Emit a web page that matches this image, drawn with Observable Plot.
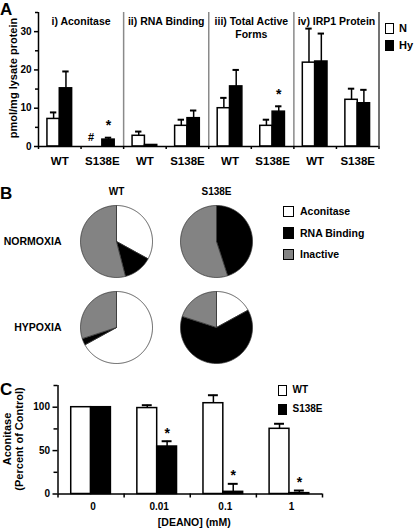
<!DOCTYPE html>
<html><head><meta charset="utf-8">
<script src="https://cdn.jsdelivr.net/npm/d3@7"></script>
<script src="https://cdn.jsdelivr.net/npm/@observablehq/plot@0.6"></script>
<style>
body{margin:0;background:#fff;}
#fig{position:relative;width:416px;height:529px;overflow:hidden;font-family:"Liberation Sans",Arial,sans-serif;font-weight:bold;color:#000;background:#fff;}
.p{position:absolute;left:0;}
.letter{position:absolute;font-size:17px;line-height:1;}
.box{position:absolute;box-sizing:border-box;border:1.5px solid #000;}
.lab{position:absolute;line-height:1;white-space:nowrap;}
.rot{position:absolute;white-space:pre;text-align:center;transform:translate(-50%,-50%) rotate(-90deg);}
</style></head><body><div id="fig"></div>
<script>
// ---------- Panel A data (order within each panel: WT-N, WT-Hy, S138E-N, S138E-Hy)
const panels = ["i) Aconitase", "ii) RNA Binding", "iii) Total Active\nForms", "iv) IRP1 Protein"];
const genotypes = ["WT", "S138E"];
const conditions = ["N", "Hy"];
const conditionFills = ["white", "black"];
const aconitase = [7.2, 15.2, 0, 1.8];
const aconitaseUpper = [8.9, 19.6, null, 2.3];
const aconitaseMarks = ["", "", "#", "*"];
const rnaBinding = [2.8, 0.4, 5.4, 7.4];
const rnaBindingUpper = [3.9, null, 7.0, 9.4];
const rnaBindingMarks = ["", "", "", ""];
const totalActive = [10.0, 15.7, 5.4, 9.1];
const totalActiveUpper = [12.7, 20.0, 7.0, 10.5];
const totalActiveMarks = ["", "", "", "*"];
const irp1 = [21.9, 22.2, 12.2, 11.3];
const irp1Upper = [30.8, 29.5, 15.1, 14.8];
const irp1Marks = ["", "", "", ""];
const yLabelA = "pmol/mg lysate protein";
const yMajorA = [0, 10, 20, 30];
const yMinorA = [5, 15, 25, 35];

// ---------- Panel B data (percent of IRP1: Aconitase, RNA Binding, Inactive)
const oxygen = ["NORMOXIA", "HYPOXIA"];
const pieCategories = ["Aconitase", "RNA Binding", "Inactive"];
const pieFills = ["white", "black", "#838383"];
const pieWTNormoxia = [33, 13, 54];
const pieS138ENormoxia = [0, 45, 55];
const pieWTHypoxia = [67, 3, 30];
const pieS138EHypoxia = [17, 63, 20];

// ---------- Panel C data
const doses = ["0", "0.01", "0.1", "1"];
const seriesC = ["WT", "S138E"];
const wtMean = [100, 99, 104.6, 75.1];
const wtUpper = [null, 102.3, 113.8, 80.9];
const wtMarks = ["", "", "", ""];
const s138eMean = [100, 54.7, 2.5, 1];
const s138eUpper = [null, 60.8, 11.7, 4];
const s138eMarks = ["", "*", "*", "*"];
const yLabelC = "Aconitase\n(Percent of Control)";
const xLabelC = "[DEANO] (mM)";
const yMajorC = [0, 50, 100];
const yMinorC = [25, 75, 125];

const fig = document.getElementById("fig");
const baseStyle = {fontFamily: '"Liberation Sans", Arial, sans-serif', fontWeight: "bold", fontSize: "10px", background: "transparent", color: "black", overflow: "visible"};

function place(node, top) {
  const d = document.createElement("div");
  d.className = "p"; d.style.top = top + "px";
  d.appendChild(node); fig.appendChild(d);
}
function letter(t, left, top) {
  const d = document.createElement("div"); d.className = "letter";
  d.textContent = t; d.style.left = left + "px"; d.style.top = top + "px"; fig.appendChild(d);
}
function rotLabel(t, cx, cy, fontSize, lineHeight) {
  const d = document.createElement("div"); d.className = "rot"; d.textContent = t;
  Object.assign(d.style, {left: cx + "px", top: cy + "px", fontSize: fontSize + "px", lineHeight: lineHeight + "px"});
  fig.appendChild(d);
}
function legendItem(label, fill, left, top, w, h, textLeft, fontSize) {
  const b = document.createElement("div"); b.className = "box";
  Object.assign(b.style, {left: left + "px", top: top + "px", width: w + "px", height: h + "px", background: fill});
  fig.appendChild(b);
  const t = document.createElement("div"); t.className = "lab"; t.textContent = label;
  Object.assign(t.style, {left: textLeft + "px", top: (top + h / 2 - fontSize / 2) + "px", fontSize: fontSize + "px"});
  fig.appendChild(t);
}

// ---------- Panel A
const meansA = [aconitase, rnaBinding, totalActive, irp1];
const uppersA = [aconitaseUpper, rnaBindingUpper, totalActiveUpper, irp1Upper];
const marksA = [aconitaseMarks, rnaBindingMarks, totalActiveMarks, irp1Marks];
const bwA = 0.29;
const rowsA = [];
panels.forEach((title, p) => genotypes.forEach((g, gi) => conditions.forEach((c, ci) => {
  const k = gi * 2 + ci;
  const x1 = 2 * p + gi + 0.5 - bwA + ci * bwA;
  rowsA.push({p, g, c, ci, x1, x2: x1 + bwA, xc: x1 + bwA / 2, value: meansA[p][k], upper: uppersA[p][k], mark: marksA[p][k]});
})));
const errA = rowsA.filter(d => d.upper != null);
const nSlots = panels.length * genotypes.length;

const plotA = Plot.plot({
  width: 416, height: 175, marginLeft: 38, marginRight: 37.5, marginTop: 12, marginBottom: 29,
  style: baseStyle,
  x: {domain: [0, nSlots], axis: null},
  y: {domain: [0, 35], axis: null},
  marks: [
    Plot.ruleX(d3.range(2, nSlots, 2), {stroke: "#8a8a8a", strokeWidth: 1.5}),
    Plot.ruleX([nSlots], {stroke: "#444", strokeWidth: 1.5}),
    Plot.rectY(rowsA, {x1: "x1", x2: "x2", y: "value", fill: d => conditionFills[d.ci], stroke: "black", strokeWidth: 1.5}),
    Plot.ruleX(errA, {x: "xc", y1: "value", y2: "upper", strokeWidth: 1.5}),
    Plot.ruleY(errA, {y: "upper", x1: d => d.xc - 0.075, x2: d => d.xc + 0.075, strokeWidth: 2}),
    Plot.text(rowsA.filter(d => d.mark === "*"), {x: "xc", y: d => d.upper ?? d.value, text: "mark", dy: -12, fontSize: 14}),
    Plot.text(rowsA.filter(d => d.mark === "#"), {x: "xc", y: d => d.upper ?? d.value, text: "mark", dx: -5, dy: -9, fontSize: 11}),
    Plot.text(panels, {x: (d, i) => 2 * i + 1, frameAnchor: "top", text: d => d, lineAnchor: "top", dy: 3, fontSize: 10.5, lineHeight: 1.25}),
    Plot.axisY({ticks: yMajorA, tickSize: 4, tickPadding: 3, strokeWidth: 1.5, label: null, fontSize: 10}),
    Plot.axisY({ticks: yMinorA, tickSize: 3, tickFormat: () => "", strokeWidth: 1.5, label: null}),
    Plot.axisX({ticks: d3.range(0, nSlots + 1), tickSize: 3, tickFormat: () => "", strokeWidth: 1.5, label: null}),
    Plot.axisX({ticks: d3.range(nSlots).map(s => s + 0.5), tickSize: 0, tickPadding: 10.5, tickFormat: t => genotypes[Math.floor(t) % 2], fontSize: 11.5, label: null}),
    Plot.ruleX([0], {strokeWidth: 1.5}),
    Plot.ruleY([0], {strokeWidth: 1.5})
  ]
});
place(plotA, 0);
rotLabel(yLabelA, 13, 78, 11, 12);
conditions.forEach((c, i) => legendItem(c, conditionFills[i], 385, 23 + i * 16.5, 9, 11, 399, 11));
letter("A", 0, 1);

// ---------- Panel B
const pieLists = [[pieWTNormoxia, pieS138ENormoxia], [pieWTHypoxia, pieS138EHypoxia]];
const R = 0.9;
const pieRows = [];
oxygen.forEach((o, oi) => genotypes.forEach((g, gi) => {
  const arcs = d3.pie().sort(null).value(d => d)(pieLists[oi][gi]);
  arcs.forEach((a, k) => {
    if (a.data <= 0) return;
    const key = o + "-" + g + "-" + k, cat = pieCategories[k];
    const n = Math.max(2, Math.ceil((a.endAngle - a.startAngle) / 0.02));
    pieRows.push({key, cat, g, o, x: 0, y: 0});
    for (let j = 0; j <= n; j++) {
      const t = a.startAngle + (a.endAngle - a.startAngle) * j / n;
      pieRows.push({key, cat, g, o, x: R * Math.sin(t), y: R * Math.cos(t)});
    }
    pieRows.push({key, cat, g, o, x: 0, y: 0});
  });
}));
const plotB = Plot.plot({
  width: 416, height: 195, marginLeft: 76, marginRight: 160, marginTop: 25.5, marginBottom: 3,
  style: baseStyle,
  fx: {domain: genotypes, paddingInner: 0.2, paddingOuter: 0},
  fy: {domain: oxygen, paddingInner: 0.075, paddingOuter: 0},
  x: {domain: [-1, 1], axis: null},
  y: {domain: [-1, 1], axis: null},
  color: {domain: pieCategories, range: pieFills},
  marks: [
    Plot.axisFx({anchor: "top", tickSize: 0, tickPadding: 7, fontSize: 10, label: null}),
    Plot.axisFy({anchor: "left", tickSize: 0, tickPadding: 15, fontSize: 10.5, label: null}),
    Plot.line(pieRows, {x: "x", y: "y", z: "key", fill: "cat", fx: "g", fy: "o", stroke: "#333", strokeWidth: 0.8})
  ]
});
place(plotB, 175);
pieCategories.forEach((c, i) => legendItem(c, pieFills[i], 282.5, 205.5 + i * 21.5, 11.5, 11.5, 300, 10.5));
letter("B", 0, 184.5);

// ---------- Panel C
const meansC = [wtMean, s138eMean], uppersC = [wtUpper, s138eUpper], marksC = [wtMarks, s138eMarks];
const bwC = 0.3;
const rowsC = [];
doses.forEach((dose, s) => seriesC.forEach((ser, ci) => {
  const x1 = s + 0.5 - bwC + ci * bwC;
  rowsC.push({dose, ser, ci, x1, x2: x1 + bwC, xc: x1 + bwC / 2, value: meansC[ci][s], upper: uppersC[ci][s], mark: marksC[ci][s]});
}));
const errC = rowsC.filter(d => d.upper != null);
const plotC = Plot.plot({
  width: 416, height: 159, marginLeft: 57.5, marginRight: 94, marginTop: 15, marginBottom: 35.5,
  style: baseStyle,
  x: {domain: [0, doses.length], axis: null},
  y: {domain: [0, 125], axis: null},
  marks: [
    Plot.rectY(rowsC, {x1: "x1", x2: "x2", y: "value", fill: d => conditionFills[d.ci], stroke: "black", strokeWidth: 1.5}),
    Plot.ruleX(errC, {x: "xc", y1: "value", y2: "upper", strokeWidth: 1.5}),
    Plot.ruleY(errC, {y: "upper", x1: d => d.xc - 0.075, x2: d => d.xc + 0.075, strokeWidth: 2}),
    Plot.text(rowsC.filter(d => d.mark), {x: "xc", y: d => d.upper ?? d.value, text: "mark", dy: -8, fontSize: 14}),
    Plot.axisY({ticks: yMajorC, tickSize: 5, tickPadding: 3, strokeWidth: 1.5, label: null, fontSize: 10}),
    Plot.axisY({ticks: yMinorC, tickSize: 4, tickFormat: () => "", strokeWidth: 1.5, label: null}),
    Plot.axisX({ticks: d3.range(0, doses.length + 1), tickSize: 4, tickFormat: () => "", strokeWidth: 1.5, label: null}),
    Plot.axisX({ticks: doses.map((d, i) => i + 0.5), tickSize: 0, tickPadding: 8.5, tickFormat: t => doses[Math.floor(t)], fontSize: 10, label: null, dx: 2}),
    Plot.ruleX([0], {strokeWidth: 1.5}),
    Plot.ruleY([0], {strokeWidth: 1.5}),
    Plot.text([xLabelC], {frameAnchor: "bottom", lineAnchor: "middle", dx: 4, dy: 29, text: d => d, fontSize: 10.5})
  ]
});
place(plotC, 370);
rotLabel(yLabelC, 13, 439, 11, 11.5);
seriesC.forEach((s, i) => legendItem(s, conditionFills[i], 277.5, 384.5 + i * 19, 9.5, 11.5, 292.5, 10));
letter("C", 0, 381);
</script></body></html>
